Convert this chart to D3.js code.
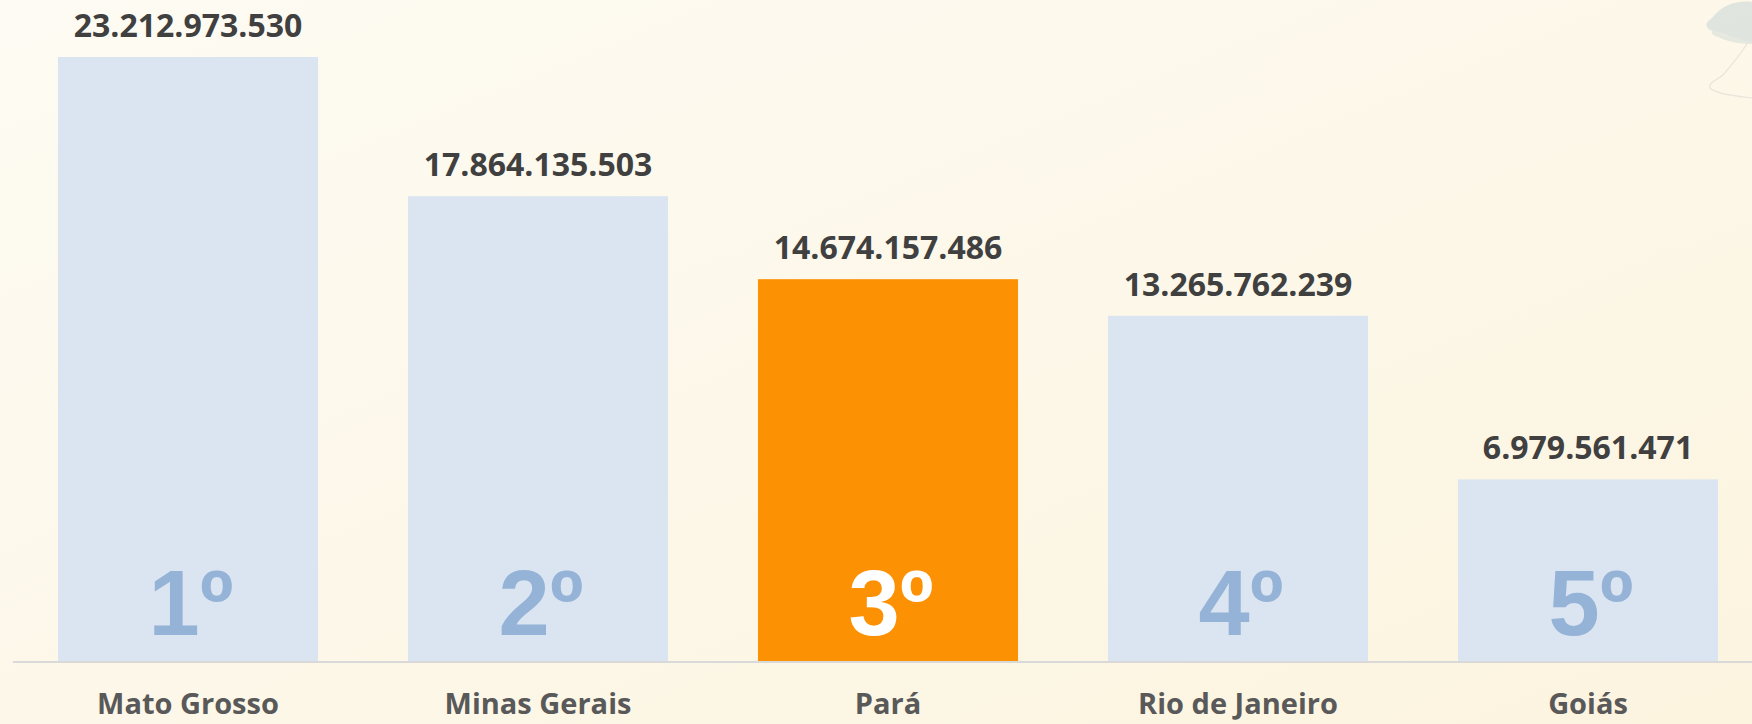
<!DOCTYPE html>
<html lang="pt">
  <head>
    <meta charset="utf-8" />
    <title>Ranking</title>
    <style>
      html, body { margin: 0; padding: 0; overflow: hidden; }
    </style>
  </head>
  <body>
    <svg id="viz"></svg>
    <script src="https://d3js.org/d3.v7.min.js"></script>
    <script>
        var width = 1752;
        var height = 724;

        // data
        var states = ["Mato Grosso", "Minas Gerais", "Pará", "Rio de Janeiro", "Goiás"];
        var values = [23212973530, 17864135503, 14674157486, 13265762239, 6979561471];
        var ranks = ["1º", "2º", "3º", "4º", "5º"];
        var highlight = "Pará";

        var svg = d3.select("#viz")
            .attr("width", width)
            .attr("height", height);

        var defs = svg.append("defs");
        var grad = defs.append("linearGradient")
            .attr("id", "bg")
            .attr("x1", "0%").attr("y1", "0%")
            .attr("x2", "100%").attr("y2", "100%");
        grad.append("stop").attr("offset", "0%").attr("stop-color", "#fdfbf3");
        grad.append("stop").attr("offset", "100%").attr("stop-color", "#fcf4df");

        svg.append("rect")
            .attr("width", width)
            .attr("height", height)
            .attr("fill", "url(#bg)");

        // faint decoration in the top right corner
        var deco = svg.append("g").attr("opacity", 0.55);
        deco.append("path")
            .attr("d", "M1712,18 C1722,4 1740,0 1752,2 L1752,44 C1738,40 1724,34 1710,30 C1704,26 1706,22 1712,18 Z")
            .attr("fill", "#c9d6d8");
        deco.append("path")
            .attr("d", "M1712,30 C1726,36 1740,40 1752,42 L1752,44 C1736,44 1722,40 1712,34 Z")
            .attr("fill", "#d3dcd8");
        deco.append("path")
            .attr("d", "M1748,42 C1740,56 1730,66 1724,74 C1718,80 1708,82 1710,88 C1716,94 1736,96 1752,98")
            .attr("fill", "none")
            .attr("stroke", "#d6d6d0")
            .attr("stroke-width", 1.2);

        var x = d3.scaleBand()
            .domain(states)
            .range([13, 1763])
            .paddingInner(0.257)
            .paddingOuter(0.1285);

        var y = d3.scaleLinear()
            .domain([0, d3.max(values)])
            .range([661, 57]);

        var data = states.map(function(s, i) {
            return {state: s, value: values[i], rank: ranks[i]};
        });

        var bars = svg.append("g").attr("class", "bars")
            .selectAll("rect")
            .data(data)
            .enter()
            .append("rect")
            .attr("x", function(d) { return x(d.state); })
            .attr("y", function(d) { return y(d.value); })
            .attr("width", x.bandwidth())
            .attr("height", function(d) { return y(0) - y(d.value); })
            .attr("fill", function(d) { return d.state === highlight ? "#fd9104" : "#dbe5f1"; });

        // baseline
        svg.append("line")
            .attr("x1", 13)
            .attr("x2", width)
            .attr("y1", y(0) + 1)
            .attr("y2", y(0) + 1)
            .attr("stroke", "#d9d9d9")
            .attr("stroke-width", 2);

        var fmt = d3.formatLocale({decimal: ",", thousands: ".", grouping: [3], currency: ["R$", ""]}).format(",d");

        svg.append("g").attr("class", "values")
            .selectAll("text")
            .data(data)
            .enter()
            .append("text")
            .attr("x", function(d) { return x(d.state) + x.bandwidth() / 2; })
            .attr("y", function(d) { return y(d.value) - 20; })
            .attr("text-anchor", "middle")
            .style("font-family", "'Open Sans', Lato, sans-serif")
            .style("font-weight", "bold")
            .style("font-size", "32px")
            .style("fill", "#404040")
            .text(function(d) { return fmt(d.value); });

        svg.append("g").attr("class", "ranks")
            .selectAll("text")
            .data(data)
            .enter()
            .append("text")
            .attr("x", function(d) { return x(d.state) + x.bandwidth() / 2 + 3; })
            .attr("y", 635)
            .attr("text-anchor", "middle")
            .style("font-family", "'Liberation Sans', Arial, sans-serif")
            .style("font-weight", "bold")
            .style("font-size", "92px")
            .style("fill", function(d) { return d.state === highlight ? "#ffffff" : "#95b3d7"; })
            .text(function(d) { return d.rank; });

        svg.append("g").attr("class", "labels")
            .selectAll("text")
            .data(data)
            .enter()
            .append("text")
            .attr("x", function(d) { return x(d.state) + x.bandwidth() / 2; })
            .attr("y", 714)
            .attr("text-anchor", "middle")
            .style("font-family", "'Open Sans', Lato, sans-serif")
            .style("font-weight", "bold")
            .style("font-size", "29px")
            .style("fill", "#595959")
            .text(function(d) { return d.state; });
    </script>
  </body>
</html>
